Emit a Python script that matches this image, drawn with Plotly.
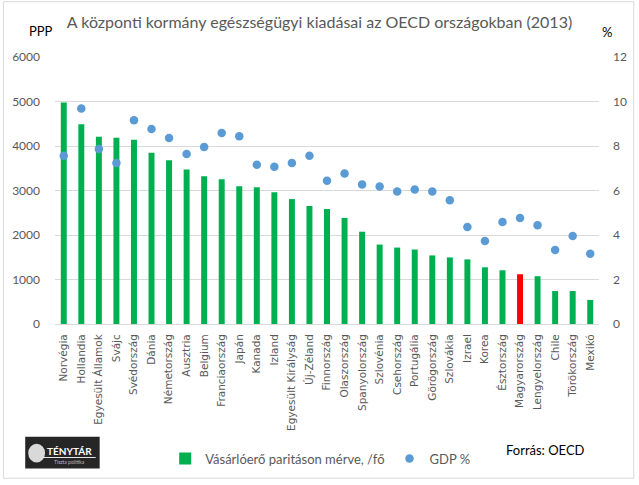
import plotly.graph_objects as go

countries = ["Norvégia", "Hollandia", "Egyesült Államok", "Svájc", "Svédország", "Dánia",
             "Németország", "Ausztria", "Belgium", "Franciaország", "Japán", "Kanada", "Izland",
             "Egyesült Királyság", "Új-Zéland", "Finnország", "Olaszország", "Spanyolország",
             "Szlovénia", "Csehország", "Portugália", "Görögország", "Szlovákia", "Izrael",
             "Korea", "Észtország", "Magyarország", "Lengyelország", "Chile", "Törökország", "Mexikó"]
ppp_per_capita = [4980, 4490, 4207, 4184, 4140, 3851, 3680, 3473, 3318, 3251, 3096, 3073, 2962,
                  2807, 2652, 2585, 2385, 2074, 1785, 1718, 1674, 1541, 1496, 1452,
                  1274, 1207, 1118, 1074, 741, 741, 541]
gdp_pct = [7.56, 9.69, 7.87, 7.24, 9.16, 8.76, 8.36, 7.64, 7.96, 8.58, 8.44, 7.16, 7.07,
           7.24, 7.56, 6.44, 6.76, 6.27, 6.18, 5.96, 6.04, 5.96, 5.56, 4.36,
           3.73, 4.58, 4.76, 4.44, 3.33, 3.96, 3.16]
highlight = "Magyarország"

GREEN = "#00B050"
RED = "#FF0000"
BLUE = "#5B9BD5"
GRAY = "#595959"
FONT = "Lato"

W, H = 639, 485
ML, MR, MT, MB = 53, 38, 57, 158
PW, PH = W - ML - MR, H - MT - MB

def px(x):
    return (x - ML) / PW

def py(y):
    return (H - MB - y) / PH

bar_colors = [RED if c == highlight else GREEN for c in countries]

fig = go.Figure()
fig.add_trace(go.Bar(
    x=countries, y=ppp_per_capita, name="Vásárlóerő paritáson mérve, /fő",
    marker=dict(color=bar_colors, line=dict(width=0)), yaxis="y",
))
fig.add_trace(go.Scatter(
    x=countries, y=gdp_pct, name="GDP %", mode="markers",
    marker=dict(color=BLUE, size=8.5), yaxis="y2",
))

shapes = [
    dict(type="rect", xref="paper", yref="paper", x0=px(1), x1=px(636), y0=py(1), y1=py(483),
         line=dict(color="#D9D9D9", width=1), fillcolor="rgba(0,0,0,0)", layer="below"),
    # logo
    dict(type="rect", xref="paper", yref="paper", x0=px(23), x1=px(98), y0=py(441), y1=py(473),
         line=dict(width=0), fillcolor="#262626"),
    dict(type="circle", xref="paper", yref="paper", x0=px(26), x1=px(43), y0=py(448), y1=py(467),
         line=dict(width=0), fillcolor="#D9D9D9"),
    dict(type="line", xref="paper", yref="paper", x0=px(40), x1=px(94), y0=py(462), y1=py(462),
         line=dict(color="#E6E6E6", width=1)),
]

def ann(text, x, y, size, color, xanchor="center"):
    return dict(text=text, x=px(x), y=py(y), xref="paper", yref="paper", showarrow=False,
                xanchor=xanchor, yanchor="middle", font=dict(family=FONT, size=size, color=color))

annotations = [
    ann("PPP", 39, 31, 13, "#000000"),
    ann("%", 609, 32, 13, "#000000"),
    ann("Forrás: OECD", 547, 454, 13, "#000000"),
    ann("<b>TÉNYTÁR</b>", 68, 455, 10, "#FFFFFF"),
    ann("Tiszta politika", 68, 467, 5, "#BBBBBB"),
]

fig.update_layout(
    width=W, height=H,
    margin=dict(l=ML, r=MR, t=MT, b=MB, pad=0),
    paper_bgcolor="white", plot_bgcolor="white",
    font=dict(family=FONT, size=12, color=GRAY),
    title=dict(text="A központi kormány egészségügyi kiadásai az OECD országokban (2013)",
               x=0.5, xref="container", xanchor="center", y=1 - 22 / H, yanchor="middle",
               font=dict(family=FONT, size=16, color=GRAY)),
    bargap=0.66,
    xaxis=dict(range=[-0.5, len(countries) - 0.5], tickangle=-90, showgrid=False,
               showline=True, linecolor="#D9D9D9", linewidth=1, ticks="",
               tickfont=dict(family="DejaVu Sans", size=10.5, color=GRAY), ticklabelstandoff=5),
    yaxis=dict(range=[0, 6000], dtick=1000, showgrid=True, gridcolor="#D9D9D9", gridwidth=1,
               zeroline=False, showline=False, ticks="", ticklabelstandoff=14,
               tickfont=dict(family=FONT, size=12, color=GRAY)),
    yaxis2=dict(range=[0, 12], dtick=2, overlaying="y", side="right", showgrid=False,
                zeroline=False, showline=False, ticks="", ticklabelstandoff=13,
                tickfont=dict(family=FONT, size=12, color=GRAY)),
    legend=dict(orientation="h", x=px(164), y=py(463), xanchor="left", yanchor="middle",
                font=dict(family=FONT, size=13, color=GRAY), bgcolor="rgba(0,0,0,0)",
                itemwidth=30, traceorder="normal"),
    shapes=shapes, annotations=annotations,
)

fig.write_html("out.html")
